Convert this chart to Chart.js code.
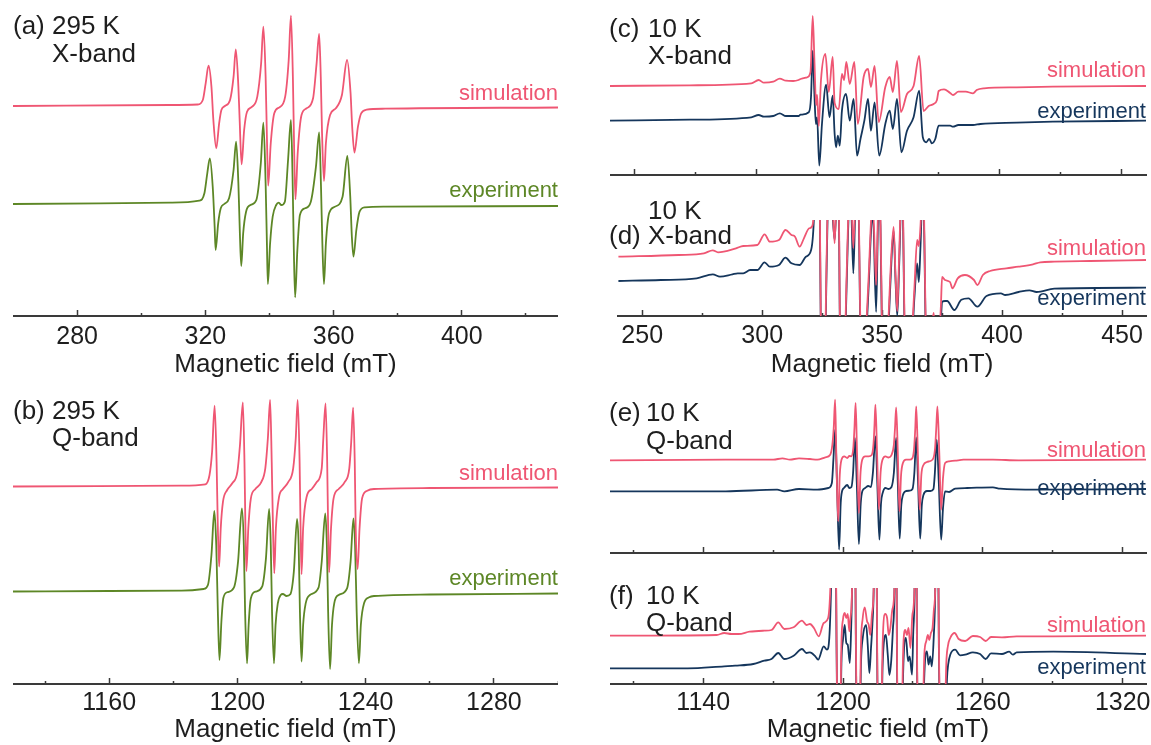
<!DOCTYPE html>
<html><head><meta charset="utf-8">
<script src="https://cdn.jsdelivr.net/npm/chart.js@4.4.1/dist/chart.umd.min.js"></script>
<style>
body{margin:0;width:1151px;height:745px;position:relative;background:#fff;overflow:hidden;font-family:"Liberation Sans",Arial,sans-serif;}
canvas{position:absolute;}
.t{position:absolute;white-space:nowrap;color:#1e1e1e;font-size:26px;line-height:26px;}
.s{position:absolute;white-space:nowrap;font-size:22px;line-height:22px;text-align:right;}
</style></head><body>
<script>
// ---- data (field in mT, signal in arbitrary units above the axis) ----
const aSim=[[260,210],[309.1,211],[317.6,211.5],[319.2,216],[320.1,232.7],[321.0,250.3],[321.9,229.3],[322.5,196],[323.4,167.7],[324.3,192.7],[325.0,206],[326.1,210],[327.7,216],[328.8,239.3],[329.5,266.7],[330.3,229.3],[330.7,196],[331.3,151.7],[332.1,186],[333.0,204.3],[334.6,209.3],[336.2,219.3],[337.4,252.7],[338.1,289.3],[338.8,239.3],[339.2,179.3],[339.6,130.3],[340.4,172.7],[341.5,202.7],[343.1,208.7],[344.9,219.3],[346.0,256],[346.7,300.3],[347.3,239.3],[347.7,166],[348.1,116.7],[348.8,162.7],[350.0,201],[351.6,207.7],[353.6,217.7],[354.7,252.7],[355.5,282],[356.0,239.3],[356.4,182.7],[357.0,135],[357.6,172.7],[358.9,201],[360.7,207.7],[362.6,221],[364.2,256],[365.3,222.7],[365.8,189.3],[366.5,163.3],[367.6,189.3],[368.6,202.7],[370.3,206.3],[376.1,207.3],[430,208.5]];
const aExp=[[260,112],[309.1,113.3],[318.1,115.3],[319.7,122.7],[320.6,142.7],[321.4,157.7],[322.3,129.3],[322.9,89.3],[323.2,66],[324.0,92.7],[324.8,107.7],[325.9,112],[327.4,117.7],[328.8,146],[329.6,174.3],[330.3,132.7],[330.8,79.3],[331.2,50],[331.8,82.7],[332.7,104.3],[334.1,111],[335.9,116],[337.3,152.7],[338.1,193.3],[338.8,132.7],[339.2,72.7],[339.5,32],[340.2,72.7],[341.0,99.3],[342.1,111],[342.9,113.3],[343.7,111],[344.8,114.3],[345.8,156],[346.7,196],[347.2,139.3],[347.6,66],[348.0,18.7],[348.7,66],[349.5,101],[351.1,107.7],[352.9,114.3],[354.5,149.3],[355.5,183.7],[356.1,126],[356.5,72.7],[357.0,32],[357.6,72.7],[358.6,102.7],[360.4,109.3],[362.8,119.3],[364.3,160],[365.2,119.3],[365.7,79.3],[366.2,59.3],[367.1,86],[368.1,104.3],[369.7,108.7],[376.1,109.3],[430,110]];
const bSim=[[1130,197.5],[1182.6,198.3],[1190,199.7],[1191.3,209],[1192.1,232.3],[1192.9,278.3],[1193.5,222.3],[1193.9,155.7],[1194.3,117.3],[1194.8,155.7],[1195.5,182.3],[1196.8,194],[1198.4,200.7],[1200,212.3],[1200.8,239],[1201.7,281.7],[1202.2,222.3],[1202.5,155.7],[1202.8,113],[1203.4,155.7],[1204.2,185.7],[1205.6,195],[1207.4,201.7],[1208.7,215.7],[1209.5,245.7],[1210.2,284],[1210.7,222.3],[1211.1,155.7],[1211.5,110.7],[1212.0,155.7],[1213.0,187.3],[1214.2,195],[1215.8,201.7],[1217.4,215.7],[1218.2,245.7],[1218.8,284],[1219.4,222.3],[1219.7,155.7],[1220.0,109.7],[1220.5,155.7],[1221.6,187.3],[1223.2,195],[1224.7,201.7],[1226.3,215.7],[1226.8,245.7],[1227.5,280.7],[1228.0,222.3],[1228.3,155.7],[1228.6,111.7],[1229.2,155.7],[1230.0,185.7],[1231.6,195],[1233.4,201.7],[1234.9,215.7],[1235.5,242.3],[1236.1,276.3],[1236.6,222.3],[1236.9,155.7],[1237.5,115],[1238.1,155.7],[1238.9,185.7],[1240.5,193.3],[1242.6,195],[1260,196],[1300,196.5]];
const bExp=[[1130,92.5],[1160,93],[1182.6,93.3],[1189.5,95],[1190.8,99],[1191.9,129],[1192.8,173],[1193.4,139],[1193.9,72.3],[1194.4,24],[1195.0,62.3],[1195.6,85.7],[1196.8,91.7],[1198.9,96.3],[1200.2,122.3],[1201.4,175.7],[1202.0,139],[1202.4,72.3],[1203.0,20.7],[1203.5,59],[1204.2,85.7],[1205.6,92.3],[1207.7,97.3],[1208.9,125.7],[1209.9,175],[1210.4,139],[1210.8,72.3],[1211.4,20.7],[1211.9,59],[1212.6,80.7],[1213.5,89],[1214.2,90],[1215.3,88],[1216.5,89.7],[1217.6,112.3],[1218.6,165],[1219.1,139],[1219.5,72.3],[1220.0,22.3],[1220.5,59],[1221.3,80.7],[1222.6,89],[1225.3,96.3],[1226.3,122.3],[1227.4,170.7],[1227.9,139],[1228.3,72.3],[1228.9,15],[1229.5,59],[1230.2,80.7],[1231.6,89],[1234.2,95.7],[1235.3,122.3],[1236.2,165.7],[1236.7,139],[1237.2,72.3],[1237.9,20.7],[1238.5,59],[1239.5,80.7],[1241.1,86.7],[1242.6,88],[1260,89.5],[1300,90.5]];
const cSim=[[240,89],[272.7,89.7],[298,91.7],[301,95],[303.2,92.3],[307,93.3],[309.7,96.3],[312.2,94.3],[315.2,94],[317.4,95],[318.2,96],[320.9,97.7],[322.3,103],[323.2,159],[323.9,115],[324.6,70],[325.0,80],[325.7,49],[326.6,95],[328.4,121],[329.8,83],[331.4,118],[332.2,72],[333.9,66],[335.2,101],[336.1,95],[337.0,113],[338.4,91],[340.3,113],[341.7,51],[344.1,98],[345.9,106],[347.1,88],[348.6,109],[350.3,53],[353.0,88],[354.8,98],[356.1,83],[357.8,114],[359.4,63],[361.9,81],[364.6,89],[366.9,119],[368.7,64],[370.8,69],[372.8,71],[374.2,75],[374.9,84],[377.1,85.7],[379.6,82],[380.8,80],[383,83.3],[386,83.3],[389,81.7],[390.5,85],[393.5,86.7],[406.9,87.7],[421.8,88.3],[460,89]];
const cExp=[[240,54.3],[272.7,55.3],[298,57.7],[301,60],[303.2,58.3],[307,59],[309.7,61.7],[312.2,59],[315.2,59],[317.4,59],[318.2,60.3],[321.6,62.7],[322.5,77.7],[323.2,124.3],[323.9,81],[324.5,51],[325.0,57.7],[325.9,9.3],[327.0,51],[328.7,90.3],[330.1,57.7],[331.4,79.3],[332.2,41],[332.8,27.7],[333.5,39.3],[334.3,29.3],[335.2,64.3],[336.9,81],[338.4,54.3],[340.0,76],[341.4,19.3],[342.8,36],[344.4,54.3],[345.9,76],[347.1,44.3],[348.6,72.7],[350.5,19.3],[353.0,51],[354.8,64.3],[356.1,46],[357.8,76],[359.6,22.7],[361.9,44.3],[364.6,57.7],[366.9,84.3],[368.4,37.7],[369.8,32.7],[371.0,36],[372.1,31.7],[373.5,36],[374.9,49.3],[379.6,49.3],[380.8,48.3],[383,50],[389,50],[392,51],[406.9,52.3],[421.8,53.3],[460,54.3]];
const dSim=[[240,59.3],[265.2,61],[275.7,62.7],[279.4,65.7],[281.6,63.7],[289.1,67.7],[292.1,70],[298,71],[301,81.7],[303.2,74.3],[307,76],[309.7,86],[312.2,81],[313.7,79.3],[315.6,69.3],[317.4,77.7],[319.6,87.7],[320.9,90],[321.6,110],[322.5,200],[323.2,260],[323.9,150],[324.5,-20],[325.0,-60],[325.7,-120],[326.6,20],[327.5,140],[328.4,170],[329.4,110],[330.2,72.7],[331.1,130],[331.8,140],[332.5,-20],[333.5,-50],[334.3,-40],[335.2,40],[336.2,120],[336.9,130],[338.0,68],[338.9,120],[340.0,130],[341.0,-20],[341.7,-90],[342.8,-40],[344.4,40],[345.5,100],[346.2,110],[347.5,31],[348.5,120],[349.3,100],[350.1,-40],[350.7,-90],[352.0,-40],[353.4,40],[354.8,89],[355.6,40],[356.3,5],[357.1,60],[358.1,130],[358.7,110],[359.4,-20],[360.2,-70],[361.9,-40],[363.5,30],[364.6,76],[365.3,70],[366.0,90],[366.8,130],[367.3,120],[368.2,-10],[369.0,-60],[370.8,-10],[371.5,3],[372.1,-20],[373.5,-30],[374.5,10],[375.0,39],[376.2,36],[378.3,34],[379.3,27.7],[381.5,37.7],[384.5,41],[388.3,36],[389.7,31],[392,41],[395,45],[401.8,47.7],[406.9,49.3],[412.9,51.7],[415.9,53.7],[421.8,54.3],[436.7,55],[460,56]];
const dExp=[[240,35],[257.8,36],[272.7,37.7],[279.4,41.7],[282.4,39.3],[287.6,41.7],[289.8,42.7],[292.1,42.7],[295,46],[298,46],[301,53.7],[303.2,49.3],[307,51],[309.7,58.3],[312.2,52.7],[315.6,51],[318.2,59.3],[320.4,66],[321.6,100],[322.5,190],[323.2,250],[323.9,140],[324.5,-30],[325.0,-70],[325.7,-140],[326.6,10],[327.5,130],[328.4,160],[329.4,100],[330.2,76],[331.1,120],[331.8,130],[332.5,-30],[333.5,-60],[334.3,-50],[335.2,30],[336.2,110],[336.9,120],[338.0,42.7],[338.9,110],[340.0,120],[341.0,-30],[341.7,-100],[342.8,-50],[344.4,30],[345.5,90],[346.2,100],[347.5,4],[348.5,110],[349.3,90],[350.1,-50],[350.7,-100],[352.0,-50],[353.4,30],[354.8,85],[355.6,35],[356.3,0],[357.1,50],[358.1,120],[358.7,100],[359.4,-30],[360.2,-80],[361.9,-50],[363.5,20],[364.6,52.7],[365.3,34],[366.0,70],[366.8,120],[367.3,110],[368.2,-20],[369.0,-70],[370.8,-50],[372.1,-30],[373.5,-40],[374.5,-5],[375.0,14.3],[376.2,15],[377.1,15],[380.1,6],[383,16.3],[386,17.7],[389.7,9.3],[393.5,20],[399.5,22.7],[401.3,21],[406.9,24],[411.4,25.7],[414.4,24],[421.8,27.3],[460,28.3]];
const eSim=[[1100,92.7],[1149.7,93.3],[1170.1,93.3],[1174,94.7],[1177.2,93.3],[1181.1,94.7],[1185.8,94],[1189,93.3],[1192.4,95.7],[1194.5,98.3],[1195.4,108],[1196.0,125],[1196.6,153.3],[1197.1,100],[1197.9,31.7],[1198.6,78.3],[1199.3,93],[1200.5,96.7],[1201.8,95],[1202.7,97],[1203.6,96.7],[1204.4,105],[1204.9,125],[1205.4,150],[1206.0,100],[1206.8,40],[1207.5,80],[1208.2,93],[1209.5,96.7],[1211,96.7],[1212.3,98],[1213.1,110],[1213.5,128],[1213.9,148.3],[1214.6,100],[1215.4,43.3],[1216.1,80],[1216.9,93],[1218.2,96.7],[1219.5,95.5],[1220.8,98],[1221.8,108],[1222.3,125],[1222.8,145.7],[1223.5,100],[1224.2,41.7],[1224.9,78],[1225.7,90],[1227,93.3],[1228.6,93.3],[1229.8,95],[1230.5,105],[1231.0,125],[1231.4,146.7],[1232.1,100],[1232.9,43.3],[1233.6,78],[1234.5,88],[1236,91],[1237.5,92],[1238.8,95],[1239.5,105],[1240.0,125],[1240.5,146.7],[1241.3,100],[1242.1,43.3],[1242.9,75],[1243.8,90],[1245.5,91.7],[1248.1,92.3],[1251.7,93.3],[1264.3,93.3],[1275.3,92.7],[1330,93.3]];
const eExp=[[1100,61.7],[1149.7,61.7],[1171.7,63.3],[1174.8,61.7],[1181.1,64],[1189,63.3],[1193.7,65],[1195.2,70],[1195.9,95],[1196.6,123.3],[1197.4,70],[1198.3,3.3],[1199.0,50],[1199.6,62],[1200.4,65],[1201.8,68],[1202.7,65],[1203.6,66],[1204.3,80],[1205.1,115],[1205.9,70],[1206.8,9],[1207.6,50],[1208.3,62],[1209.5,65],[1210.8,67],[1212,66],[1212.8,80],[1213.9,116.7],[1214.7,70],[1215.6,13.3],[1216.3,50],[1217.0,60],[1218.2,65],[1219.5,64],[1220.8,66],[1221.8,80],[1222.8,115],[1223.5,70],[1224.3,14.3],[1225.0,48],[1225.7,58],[1227,62],[1228.6,62.3],[1229.8,64],[1230.6,80],[1231.4,115.7],[1232.2,70],[1233.1,14.3],[1233.8,48],[1234.5,58],[1236,62],[1237.5,62],[1238.8,64],[1239.4,80],[1240.2,113.3],[1241.1,70],[1242.1,13.3],[1242.9,45],[1243.8,61.7],[1245.5,61],[1248.1,64.3],[1253.3,65],[1264.3,65.7],[1267.4,64.3],[1283.1,63.3],[1330,64]];
const fSim=[[1100,48.3],[1145.8,49],[1149,51],[1152.1,50],[1155.2,50],[1159.9,52.3],[1166.2,53.3],[1169.3,54],[1172.2,61.7],[1174.8,55],[1178.8,56.7],[1182.4,63.3],[1184.3,59],[1185.8,60],[1187.5,56],[1189.6,47.7],[1191.7,61],[1193.6,66],[1194.6,99],[1195.3,170],[1196.3,300],[1197.2,50],[1198.2,-150],[1199.3,40],[1200.0,65],[1200.7,71],[1201.4,66],[1202.0,70],[1202.7,52.7],[1203.1,64],[1203.9,100],[1204.7,300],[1205.5,50],[1206.5,-150],[1207.7,40],[1208.4,65],[1209.3,76.7],[1210.3,62.7],[1211.0,59.3],[1211.7,49],[1212.4,70],[1213.2,100],[1214.0,300],[1214.6,50],[1215.7,-150],[1217.0,40],[1218.1,70],[1218.9,66],[1219.6,49],[1220.3,56],[1221.2,75],[1222.1,100],[1222.6,300],[1223.1,50],[1224.3,-150],[1225.9,40],[1226.7,54],[1227.4,49],[1228.1,56],[1228.9,36],[1229.8,70],[1230.7,100],[1231.2,300],[1231.7,50],[1233.2,-150],[1234.9,30],[1235.7,42.7],[1236.4,49],[1237.0,44],[1237.7,51],[1238.4,56],[1239.0,75],[1239.6,100],[1240.3,300],[1241.1,50],[1242.6,-150],[1244.3,20],[1245.0,38],[1246.0,46],[1247.9,51],[1249.6,45],[1252.4,43],[1255.7,48],[1258.8,47],[1261.2,43],[1263.5,47],[1268.2,46.7],[1274.5,47.7],[1290.2,47.7],[1330,48.3]];
const fExp=[[1100,15.7],[1133.3,15.7],[1149,17.7],[1153.7,18.3],[1161.5,20],[1166.2,23.3],[1169.3,25],[1172.2,31],[1174.8,25],[1178.8,28.3],[1182.4,35],[1184.3,31],[1185.8,31.7],[1188.1,27.7],[1189.3,24.3],[1191.7,37.7],[1193.1,34.3],[1194.1,46],[1194.9,100],[1196.3,280],[1197.2,40],[1198.2,-160],[1199.3,20],[1200.0,45],[1200.7,59],[1201.4,41],[1202.0,39.3],[1202.9,21],[1203.4,49],[1203.9,100],[1204.7,280],[1205.5,40],[1206.5,-160],[1207.7,20],[1208.4,45],[1209.9,59],[1210.6,39.3],[1211.3,11],[1212.0,36],[1212.6,60],[1213.2,100],[1214.0,280],[1214.6,40],[1215.7,-160],[1217.0,20],[1218.4,49],[1219.2,29],[1219.9,9],[1220.7,24],[1221.4,55],[1222.1,100],[1222.6,280],[1223.1,40],[1224.3,-160],[1225.9,20],[1227.0,46],[1227.9,22.7],[1228.6,27.7],[1229.6,9.3],[1230.1,50],[1230.7,100],[1231.2,280],[1231.7,40],[1233.2,-160],[1234.9,10],[1236.0,32.7],[1236.7,19.3],[1237.4,27.7],[1238.1,17.7],[1238.9,46],[1239.6,100],[1240.3,280],[1241.1,40],[1242.6,-160],[1244.6,5],[1245.1,19.3],[1246.0,29.3],[1248.1,34.3],[1250.2,28.7],[1252.4,29.3],[1255.7,31.7],[1258.8,30],[1261.2,25],[1263.5,30.7],[1268.2,30],[1271.3,32.3],[1272.9,29.3],[1274.5,31.7],[1290.2,32.3],[1330,30]];
// ---- axes: ranges and tick values ----
const rangeA=[260,430], majorA=[280,320,360,400], minorA=[300,340,380,420];
const rangeB=[1130,1300], majorB=[1160,1200,1240,1280], minorB=[1140,1180,1220,1260,1300];
const rangeCD=[240,460], majorCD=[250,300,350,400,450], minorCD=[275,325,375,425];
const rangeEF=[1100,1330], majorEF=[1140,1200,1260,1320], minorEF=[1110,1170,1230,1290];
const axisTitle='Magnetic field (mT)';

const FONT='"Liberation Sans", Arial, sans-serif';
const RED='#EF5673', GREEN='#5D8726', NAVY='#15365C', AX='#3a3a3a', TXT='#1e1e1e';

function panel(p){
  const c=document.createElement('canvas');
  c.width=p.w; c.height=p.h;
  c.style.left=p.left+'px'; c.style.top=p.top+'px';
  c.style.width=p.w+'px'; c.style.height=p.h+'px';
  document.body.appendChild(c);
  const below=p.below;
  new Chart(c,{
    type:'line',
    data:{datasets:p.series.map(s=>({
      data:s.d.map(q=>({x:q[0],y:q[1]})),
      borderColor:s.c,borderWidth:1.8,pointRadius:0,pointHoverRadius:0,pointHitRadius:0,fill:false,
      cubicInterpolationMode:'monotone'}))},
    options:{
      responsive:false,animation:false,events:[],
      layout:{padding:{left:0,top:0,bottom:0,right:p.padR||0},autoPadding:false},
      plugins:{legend:{display:false},tooltip:{enabled:false}},
      scales:{
        xm:{type:'linear',position:'bottom',weight:0,min:p.range[0],max:p.range[1],
          afterBuildTicks:s=>{s.ticks=p.minor.map(v=>({value:v}));},
          afterFit:s=>{s.height=0;},
          border:{display:false},
          grid:{display:true,drawOnChartArea:false,drawTicks:true,tickLength:-3,tickColor:AX,tickWidth:1.5},
          ticks:{display:false}},
        x:{type:'linear',position:'bottom',weight:1,min:p.range[0],max:p.range[1],
          afterBuildTicks:s=>{s.ticks=p.major.map(v=>({value:v}));},
          afterFit:s=>{s.height=below;},
          border:{display:true,color:AX,width:2},
          grid:{display:true,drawOnChartArea:false,drawTicks:true,tickLength:-6,tickColor:AX,tickWidth:1.5},
          ticks:{display:p.labels,padding:p.pad||11,color:TXT,font:{family:FONT,size:25},maxRotation:0,autoSkip:false,
            callback:v=>String(v)},
          title:{display:p.labels,text:axisTitle,color:TXT,font:{family:FONT,size:26},padding:{top:0,bottom:0}}},
        y:{display:false,min:0,max:p.ymax}
      }
    }
  });
}
// left column
panel({left:13,top:0,w:545,h:380,below:64,ymax:316,range:rangeA,major:majorA,minor:minorA,labels:true,pad:12,
  series:[{d:aSim,c:RED},{d:aExp,c:GREEN}]});
panel({left:13,top:382,w:545,h:363,below:61,ymax:302,range:rangeB,major:majorB,minor:minorB,labels:true,pad:10,
  series:[{d:bSim,c:RED},{d:bExp,c:GREEN}]});
// right column (canvas runs a little wider than the plot so the last labels have room)
panel({left:610,top:0,w:556,h:177,below:2,ymax:175,range:rangeCD,major:majorCD,minor:minorCD,labels:false,padR:20,
  series:[{d:cSim,c:RED},{d:cExp,c:NAVY}]});
panel({left:610,top:220,w:556,h:160,below:64,ymax:96,range:rangeCD,major:majorCD,minor:minorCD,labels:true,pad:11,padR:20,
  series:[{d:dSim,c:RED},{d:dExp,c:NAVY}]});
panel({left:610,top:385,w:556,h:170,below:2,ymax:168,range:rangeEF,major:majorEF,minor:minorEF,labels:false,padR:20,
  series:[{d:eSim,c:RED},{d:eExp,c:NAVY}]});
panel({left:610,top:588,w:556,h:157,below:61,ymax:96,range:rangeEF,major:majorEF,minor:minorEF,labels:true,pad:10,padR:20,
  series:[{d:fSim,c:RED},{d:fExp,c:NAVY}]});

// annotations (real text)
function txt(cls,html,left,cy,size,color,right){
  const d=document.createElement('div');
  d.className=cls; d.innerHTML=html;
  d.style.top=(cy-size/2)+'px';
  if(right!==undefined){d.style.right=right+'px';} else {d.style.left=left+'px';}
  if(color) d.style.color=color;
  document.body.appendChild(d);
}
txt('t','(a) 295 K',13,25,26);
txt('t','X-band',52,53,26);
txt('t','(b) 295 K',13,410,26);
txt('t','Q-band',52,437,26);
txt('t','(c)',609,28,26);
txt('t','10 K',648,28,26);
txt('t','X-band',648,55,26);
txt('t','10 K',648,210,26);
txt('t','(d)',609,235,26);
txt('t','X-band',648,235,26);
txt('t','(e)',609,412,26);
txt('t','10 K',646,412,26);
txt('t','Q-band',646,440,26);
txt('t','(f)',609,595,26);
txt('t','10 K',646,595,26);
txt('t','Q-band',646,622,26);

const R1=1151-558, R2=1151-1146;
txt('s','simulation',0,93,22,RED,R1);
txt('s','experiment',0,190,22,GREEN,R1);
txt('s','simulation',0,473,22,RED,R1);
txt('s','experiment',0,578,22,GREEN,R1);
txt('s','simulation',0,70,22,RED,R2);
txt('s','experiment',0,111,22,NAVY,R2);
txt('s','simulation',0,248,22,RED,R2);
txt('s','experiment',0,298,22,NAVY,R2);
txt('s','simulation',0,450,22,RED,R2);
txt('s','experiment',0,488,22,NAVY,R2);
txt('s','simulation',0,625,22,RED,R2);
txt('s','experiment',0,667,22,NAVY,R2);
</script>
</body></html>
